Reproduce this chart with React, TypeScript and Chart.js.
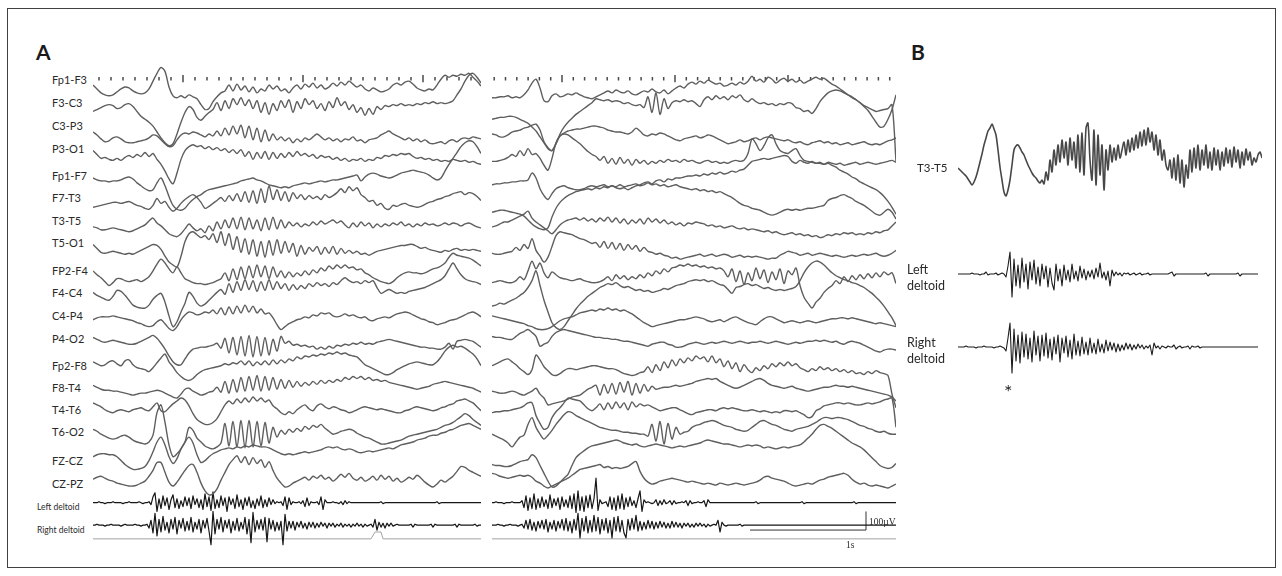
import React, { useEffect, useRef } from "react";
import { Chart, registerables } from "chart.js";
Chart.register(...registerables);

// ---------------- labels ----------------
const channelLabels = ["Fp1-F3","F3-C3","C3-P3","P3-O1","Fp1-F7","F7-T3","T3-T5","T5-O1","FP2-F4","F4-C4","C4-P4","P4-O2","Fp2-F8","F8-T4","T4-T6","T6-O2","FZ-CZ","CZ-PZ"];
const emgLabels = ["Left deltoid","Right deltoid"];

// ---------------- panel A, left page (EEG amplitude, one value every 2 samples) ----------------
const leftFp1F3 = [0,-4,-8,-10,-11,-10,-7,-4,-2,-3,-6,-8,-9,-8,-4,4,12,18,14,-2,-11,-13,-11,-13,-10,-12,-14,-20,-25,-24,-17,-12,-8,-6,0,-6,1,-5,-1,-7,-2,-8,-4,-6,0,-4,-1,-6,-4,-8,-3,0,-4,1,-2,2,-3,0,-4,-2,2,-1,3,0,4,1,-2,0,-4,-6,-3,-5,-7,-6,-4,0,2,0,3,4,1,-3,-5,-6,-4,-5,0,6,10,8,10,9,11,10,12,8,4,-1];
const leftF3C3 = [-4,-2,0,2,3,2,-1,0,3,4,1,-4,-9,-12,-15,-19,-25,-31,-36,-39,-37,-27,-15,-5,1,-2,-10,-13,-9,-5,-2,5,-3,7,-1,9,3,10,2,8,-1,7,-5,5,-7,4,-3,7,0,8,-5,6,-1,9,3,7,-1,4,-3,6,0,10,2,6,-2,3,-5,0,-8,-1,-7,1,-2,2,1,3,2,4,2,3,2,4,3,5,4,6,4,5,4,5,7,13,19,27,33,35,31,25];
const leftC3P3 = [-2,-5,-9,-12,-11,-8,-7,-9,-12,-13,-13,-12,-11,-10,-8,-5,-6,-10,-14,-17,-16,-10,-5,-3,-4,-2,-3,-5,-7,-4,-6,-1,-6,2,-5,4,-4,5,-8,4,-10,2,-12,0,-11,-4,-10,-7,-11,-8,-13,-9,-12,-8,-10,-7,-4,-7,-10,-8,-11,-9,-12,-9,-10,-7,-11,-10,-13,-10,-9,-8,-5,-3,-1,-4,-6,-8,-10,-8,-11,-9,-12,-10,-13,-14,-13,-12,-14,-11,-10,-12,-9,-8,-9,-7,-8,-9];
const leftP3O1 = [2,-2,-6,-5,-7,-8,-6,-8,-5,-3,-5,-2,-4,0,-4,-1,-7,-12,-19,-27,-32,-21,-7,2,6,8,6,7,4,6,3,5,2,4,0,3,-1,3,-4,1,-7,0,-6,1,-7,0,-6,-1,-5,0,-4,1,-3,-1,-4,-2,-6,-3,-5,-4,-7,-5,-8,-6,-9,-7,-8,-6,-9,-7,-8,-5,-6,-3,-4,-2,-3,-1,-2,-1,-4,-6,-5,-7,-6,-8,-7,-9,-8,-9,-7,-8,-9,-8,-10,-9,-11,-12];
const leftFp1F7 = [1,-1,-2,-2,-3,-2,-2,-1,1,2,0,-4,-7,-10,-12,-11,-4,1,-7,-18,-27,-31,-32,-30,-25,-21,-18,-16,-13,-11,-10,-9,-8,-7,-6,-5,-4,-2,-1,0,1,-1,-2,-4,-6,-7,-8,-9,-8,-9,-7,-6,-5,-4,-5,-4,-3,-2,-3,-2,-1,-1,0,1,2,3,4,-2,2,5,6,5,3,2,1,2,4,6,7,8,9,8,7,6,4,1,-1,1,8,15,21,27,33,37,39,38,33,26];
const leftF7T3 = [-7,-6,-5,-4,-3,-2,-2,-3,-2,-1,-3,-5,-6,-8,-9,-5,2,-3,-1,-7,-11,-8,-3,1,4,6,3,-2,-8,-6,-3,0,3,-1,5,0,7,-1,9,-2,10,-3,12,-2,15,1,11,0,9,-1,8,2,6,1,5,2,4,1,6,3,5,8,12,8,14,10,13,6,3,-1,0,-5,-3,-8,-9,-5,-6,-4,-3,-5,-6,-7,-6,-4,-2,-1,1,2,4,5,7,8,9,6,8,7,4,0];
const leftT3T5 = [-4,-5,-7,-7,-6,-5,-6,-7,-8,-9,-8,-6,-4,-2,2,5,0,-3,-7,-11,-13,-14,-11,-6,-1,-5,-8,-6,-10,-3,-8,1,-6,3,-5,5,-6,6,-7,5,-6,3,-8,5,-7,6,-6,3,-5,1,-3,0,-4,-1,-3,1,-2,2,-1,1,3,0,2,-2,-5,0,-4,1,-3,0,-5,-1,-4,-1,-3,0,-2,1,-3,-1,-4,-1,-3,0,-2,-1,-3,-2,0,-2,0,-1,-3,-1,0,-2,-4,-5];
const leftT5O1 = [0,-4,-8,-9,-8,-7,-8,-9,-10,-9,-10,-8,-6,-4,-2,0,-1,-5,-12,-18,-21,-23,-12,3,11,13,10,7,9,5,11,2,13,-1,11,-5,8,-8,6,-10,5,-12,3,-13,4,-11,5,-9,3,-8,1,-12,-1,-10,-3,-7,-2,-10,-3,-9,-2,-10,-4,-9,-6,-9,-7,-10,-9,-11,-9,-7,-6,-5,-4,-3,-2,-1,-1,0,0,-2,-4,-3,-5,-6,-7,-8,-6,-7,-5,-4,-6,-5,-6,-5,-6,-7];
const leftFp2F4 = [1,-3,-6,-10,-14,-11,-7,-7,-9,-10,-9,-8,-10,-8,-5,1,8,13,9,3,-1,5,-1,-7,-9,-11,-12,-12,-13,-12,-11,-9,-7,-1,-9,3,-8,5,-7,6,-6,7,-5,6,-7,5,-5,1,-6,0,-5,-1,-4,1,-3,2,-1,4,1,6,3,7,4,7,4,5,2,3,-1,-3,-6,-8,-10,-11,-12,-10,-6,-3,-1,0,-1,-1,-2,-1,1,3,4,6,9,15,19,17,16,15,14,12,9,6];
const leftF4C4 = [1,-2,-4,-6,-7,-3,3,2,-2,-7,-12,-14,-15,-15,-12,-6,-2,0,-9,-23,-34,-29,-19,-10,1,-3,-10,-13,-11,-7,-3,1,4,-1,10,1,12,3,14,4,13,2,12,3,14,4,12,5,10,3,9,4,8,5,10,7,11,8,10,7,11,9,13,16,13,11,12,10,13,11,13,6,0,2,4,2,0,1,0,2,3,4,5,6,8,10,12,14,18,25,31,25,19,15,13,12,11,9];
const leftC4P4 = [-4,-2,-1,-1,-1,0,-1,-2,-3,-4,-5,-7,-8,-10,-11,-10,-6,-4,-8,-13,-15,-11,-4,1,4,3,1,2,4,3,6,2,8,1,9,2,10,3,11,4,10,3,7,2,3,-2,-9,-14,-11,-8,-6,-4,-3,-1,-2,1,0,3,2,3,0,-1,0,2,0,1,-1,-2,-1,-4,-5,-3,-2,-1,-2,0,2,3,4,3,1,-1,-3,-4,-6,-7,-9,-8,-7,-5,-4,-3,-1,1,3,4,2,-1];
const leftP4O2 = [1,-1,-3,-4,-3,-2,-3,-4,-5,-6,-6,-5,-3,-1,1,3,0,-5,-11,-18,-24,-27,-27,-21,-15,-11,-10,-9,-9,-8,-7,-5,-10,0,-15,1,-17,2,-18,3,-19,2,-18,1,-17,-1,-13,2,-5,-3,-7,-6,-8,-7,-9,-8,-11,-9,-11,-8,-10,-7,-8,-6,-7,-5,-6,-4,-6,-5,-6,-4,-3,-2,-1,-2,-3,-4,-5,-6,-7,-8,-9,-9,-10,-10,-11,-11,-9,-5,-11,-3,-2,-1,-2,-3,-6,-9];
const leftFp2F8 = [3,1,-1,0,3,4,1,-1,4,5,0,-3,-4,-5,-7,-3,2,7,11,3,-2,-8,-12,-15,-16,-14,-10,-7,-5,-4,-3,-2,-1,1,0,2,1,4,0,4,-1,3,0,4,0,5,1,5,2,6,4,8,6,9,8,10,9,11,10,12,11,13,11,12,10,9,8,4,0,-2,-4,-6,-8,-10,-10,-8,-5,-3,-1,1,2,3,2,1,0,0,3,8,14,18,20,18,19,17,14,11,6,-1];
const leftF8T4 = [1,-1,-3,-4,-4,-5,-5,-6,-7,-8,-9,-8,-7,-7,-6,-5,-4,-5,-7,-9,-11,-12,-8,-3,-2,-5,-7,-9,-8,-6,-5,-1,-6,5,-7,7,-6,9,-5,10,-4,11,-5,10,-4,9,-3,7,-2,6,-1,5,0,4,1,5,2,6,3,6,4,7,5,9,7,10,8,10,7,9,6,7,5,6,4,3,2,1,0,-1,-2,-3,-2,-1,0,2,3,4,5,4,3,2,1,0,-1,-2,-4,-6];
const leftT4T6 = [5,3,1,-2,-4,-5,-3,-2,-3,-4,-2,-1,0,-2,-3,1,5,-3,-4,0,4,7,10,8,2,-6,-12,-15,-17,-17,-15,-11,-4,3,7,4,9,5,10,6,11,7,10,6,8,2,-1,-5,-7,-4,-6,-2,1,3,-1,-3,2,4,1,-1,1,0,-2,-3,-5,-4,-2,0,1,0,-1,-2,-1,-2,-3,-4,-5,-5,-3,-2,0,1,0,-1,-2,-3,-2,0,1,3,4,7,8,9,7,5,1,-3];
const leftT6O2 = [0,-2,-5,-7,-9,-10,-9,-7,-6,-8,-11,-13,-14,-15,-13,-6,17,25,7,-16,-28,-25,-20,-13,2,-1,-9,-13,-17,-19,-20,-18,-14,6,-17,8,-18,9,-19,9,-18,8,-17,7,-14,2,-8,-1,-5,0,-3,1,-2,3,0,4,2,5,1,-2,-5,-4,-2,-1,0,-1,-4,-6,-8,-9,-11,-13,-15,-15,-14,-13,-12,-11,-9,-7,-6,-5,-4,-3,-2,-1,0,2,4,5,7,10,13,16,14,10,7,4];
const leftFzCz = [1,3,4,4,3,3,1,-3,-7,-10,-12,-12,-11,-9,-3,6,16,21,13,1,-6,-1,9,16,21,15,3,-5,-3,1,4,6,8,9,10,9,11,10,12,11,13,12,11,11,10,8,6,4,3,4,3,4,5,6,5,6,7,8,10,11,10,11,9,8,9,8,6,5,6,7,6,7,8,9,10,9,11,13,14,15,16,18,19,20,22,23,23,25,26,28,29,31,33,34,35,33,31,29];
const leftCzPz = [1,3,4,2,0,-1,-3,-4,-5,-6,-6,-5,-3,-1,4,10,18,18,8,-2,-6,-2,4,10,15,16,8,-3,-11,-15,-14,-9,0,8,16,21,25,18,24,16,23,17,21,13,19,10,2,-3,-7,-6,-3,-1,1,3,0,4,2,5,1,3,-1,2,6,3,7,2,0,3,-1,1,4,0,5,1,4,-1,2,-2,0,3,1,5,2,-2,-5,-7,-4,0,-2,1,4,9,14,13,10,8,6,4];

// EMG (one value per sample)
const leftLeftDeltoid = [
  0,0,0,1,0,0,-1,0,0,0,1,0,0,0,0,-1,0,0,1,0,0,0,0,1,0,-1,0,0,
  1,-2,6,10,-9,4,-6,7,-3,5,-7,3,8,-5,4,-6,2,-4,6,-3,5,-6,7,-2,4,-5,3,-7,9,-4,
  6,-8,11,-6,3,-5,7,-3,5,-9,6,-2,4,-6,8,-4,3,-7,5,-3,6,-5,2,-6,4,-3,7,-5,3,-4,
  5,-2,3,-1,1,0,1,-3,6,-7,5,-2,1,0,0,1,-1,2,-4,5,-3,1,0,0,1,-2,6,-7,3,0,
  0,0,1,0,0,-1,1,-2,2,-1,1,0,0,
  0,0,0,0,0,0,0,0,0,0,0,0,0,
  1,-1,0,0,0,0,0,0,0,0,0,0,0,0,0,0,0,0,0,0,0,0,0,0,0,0,0,0,
  1,-1,0,0,0,0,0,0,0,0,0,0,0,0,0,0,0,0,0,0,0,0,0
];
const leftRightDeltoid = [
  0,0,1,0,0,0,-1,0,0,1,0,0,0,0,-1,0,1,0,0,0,0,1,0,0,-1,0,0,1,
  -3,5,-8,12,-11,6,-7,9,-5,3,-8,6,-4,8,-9,5,-3,7,-6,4,-5,8,-7,3,-4,6,-8,5,-3,7,
  -6,-20,14,-9,6,-4,8,-7,5,-3,6,-8,4,-5,7,-6,3,-4,8,-9,6,-18,13,-7,5,-4,6,-5,8,-17,
  7,-4,5,-6,3,-5,4,-20,11,-6,4,
  -3,4,-5,3,-2,4,-3,2,-4,3,-2,3,-3,2,-2,3,-1,2,-3,2,-1,2,-2,1,-1,2,-2,1,-1,1,-2,1,-1,2,-1,1,-2,1,-1,0,1,
  -2,6,-5,3,-2,2,-3,2,-1,2,-1,0,1,0,0,
  0,0,0,0,1,-2,1,0,0,0,0,0,0,0,1,-2,1,0,0,0,0,0,0,0,0,0,1,-2,1,0,0,0,0,0,0,0,1,-1,0,0
];
const leftMarkerTimes = [0,139,141,144,145,194];
const leftMarkerValues = [0,0,7,7,0,0];

// ---------------- panel A, right page ----------------
const rightFp1F3 = [-13,-13,-12,-12,-11,-13,-12,-13,-10,-5,2,6,-3,-16,-17,-11,-9,-12,-11,-9,-10,-8,-10,-12,-13,-14,-12,-10,-8,-6,-8,-5,-7,-8,-6,-9,-10,-8,-6,-7,-4,-7,-8,-5,-9,-6,-3,-1,-3,1,3,1,4,2,5,3,1,2,-1,0,2,0,3,1,4,9,4,6,3,8,6,2,5,7,4,6,3,5,2,4,6,8,6,7,4,1,-1,-4,-7,-10,-13,-15,-18,-22,-26,-32,-38,-43,-42,-35,-25,-10];
const rightF3C3 = [-12,-11,-10,-10,-9,-9,-10,-12,-14,-16,-20,-24,-30,-36,-42,-44,-37,-27,-20,-15,-11,-7,-4,-1,2,5,9,8,7,8,6,7,6,4,5,3,2,3,0,11,-5,15,-7,9,-1,5,7,6,8,6,7,4,1,8,11,8,12,9,11,8,12,10,13,8,6,9,6,4,5,3,4,2,4,3,5,4,0,-1,-4,-3,-6,-1,6,11,15,17,18,17,15,13,11,8,5,2,0,-2,-4,-3,-2,-1,3,-55];
const rightC3P3 = [-4,-5,-7,-7,-5,-2,-1,0,2,3,5,6,0,-12,-18,-21,-14,-6,-3,-1,0,1,1,2,3,4,4,3,2,0,-1,-2,-2,-3,-4,-2,2,-1,-5,-6,-4,-5,-3,-4,-6,-8,-10,-11,-9,-8,-7,-6,-8,-7,-5,-6,-8,-10,-12,-14,-13,-12,-10,-12,-11,-9,-8,-10,-8,-7,-8,-9,-10,-11,-10,-12,-13,-12,-14,-15,-13,-12,-11,-13,-12,-14,-13,-15,-14,-13,-15,-14,-13,-12,-14,-15,-14,-15,-13,-11,-10,-8];
const rightP3O1 = [-9,-9,-8,-7,-5,-2,-4,2,-3,4,-2,-1,-6,-13,-18,-6,10,17,19,18,15,12,9,5,1,-2,-4,-8,-4,-11,-6,-12,-5,-11,-7,-13,-7,-11,-8,-12,-9,-11,-8,-10,-7,-9,-8,-10,-7,-9,-8,-10,-11,-9,-8,-10,-9,-11,-10,-11,-9,-8,-9,-8,-1,14,9,2,7,15,18,9,2,0,-1,2,4,-3,-8,-9,-10,-11,-11,-12,-11,-13,-15,-18,-20,-22,-25,-27,-30,-32,-34,-36,-38,-41,-45,-50,-56,-63];
const rightFp1F7 = [-6,-5,-5,-4,-4,-3,-3,-2,-2,-1,6,1,-10,-17,-21,-15,-10,-8,-7,-9,-10,-11,-11,-10,-8,-7,-8,-7,-6,-8,-7,-9,-10,-9,-11,-9,-7,-6,-4,-3,-5,-2,-1,-3,0,-1,1,1,2,3,3,4,3,5,4,6,5,7,5,6,8,7,9,10,14,18,19,20,21,20,21,22,23,24,23,18,16,19,17,16,18,16,17,15,17,16,15,16,14,15,16,17,15,16,17,16,15,16,17,18,19,17];
const rightF7T3 = [-12,-11,-10,-10,-11,-12,-13,-14,-16,-20,-24,-27,-29,-30,-28,-17,-8,-2,2,5,7,9,10,11,12,11,13,12,14,13,15,14,16,14,15,16,17,15,16,18,16,17,15,16,14,15,16,14,13,12,11,12,10,11,9,10,8,9,7,5,3,0,-3,-5,-6,-8,-9,-10,-12,-14,-15,-14,-12,-10,-9,-10,-9,-10,-9,-8,-8,-7,-6,-5,0,2,3,5,6,4,2,-1,-3,-5,-8,-11,-14,-15,-12,-9,-12,-19];
const rightT3T5 = [-4,-3,-1,1,1,3,5,7,9,12,5,1,-2,-5,-8,-11,-7,-2,1,3,4,5,3,5,2,4,1,5,2,6,1,5,0,4,-1,3,0,4,-1,5,1,4,0,3,-1,1,-2,0,-3,0,-1,1,0,-1,-3,-2,-4,-3,-5,-4,-3,-5,-6,-5,-7,-6,-7,-8,-9,-8,-10,-9,-11,-12,-11,-10,-12,-11,-13,-12,-14,-13,-15,-14,-12,-13,-11,-12,-10,-11,-10,-12,-11,-12,-10,-11,-9,-10,-8,-7,-3,1];
const rightT5O1 = [-9,-10,-10,-9,-8,-7,-3,-6,0,-4,6,-6,-12,-18,-13,-2,9,13,12,11,10,8,6,5,3,1,2,-3,3,-4,2,-5,1,-6,0,-5,-1,-7,-3,-7,-8,-10,-9,-11,-12,-14,-13,-15,-14,-13,-12,-11,-10,-12,-11,-10,-12,-11,-10,-11,-13,-12,-11,-13,-12,-13,-12,-13,-14,-15,-14,-14,-11,-9,-7,-8,-9,-11,-10,-9,-11,-10,-9,-10,-11,-12,-11,-12,-13,-12,-11,-12,-11,-10,-11,-10,-9,-11,-12,-11,-9,-6];
const rightFp2F4 = [-11,-10,-9,-10,-11,-11,-9,-5,-8,1,11,3,9,-1,-6,0,-3,-6,-7,-8,-9,-8,-7,-9,-10,-11,-11,-10,-8,-5,-9,-3,-7,-4,-8,-5,-7,-3,-6,-1,-4,1,-2,3,0,4,5,7,6,8,6,7,5,6,4,5,3,4,1,-5,3,-10,1,-13,-1,-9,4,-7,2,-11,0,-8,3,-12,1,-3,4,-14,-26,-32,-37,-31,-27,-21,-17,-14,-9,-12,-5,-10,-4,-8,-3,-7,-2,-6,-1,-5,0,-3,-1,-12];
const rightF4C4 = [-13,-12,-10,-11,-9,-7,-5,-2,1,6,13,23,8,-7,-19,-30,-35,-37,-34,-28,-22,-16,-11,-7,-3,0,3,6,8,10,9,11,8,6,7,5,3,4,2,3,1,2,3,5,4,6,8,9,10,12,13,14,13,14,12,13,11,9,8,4,0,6,7,9,10,8,9,7,5,6,4,3,4,3,4,5,7,13,21,27,31,33,32,29,25,21,18,16,14,13,11,10,8,6,3,0,-4,-8,-13,-19,-25,-33];
const rightC4P4 = [0,-1,-2,-3,-4,-5,-6,-7,-8,-10,-11,-13,-14,-14,-13,-11,-8,-5,-3,-2,-1,1,3,4,5,6,5,7,6,8,6,7,5,6,4,2,-1,-4,-7,-9,-11,-10,-9,-8,-7,-6,-5,-4,-4,-3,-2,-1,-2,-3,-5,-6,-5,-4,-6,-4,-2,-1,-3,-5,-7,-8,-9,-6,-3,-1,-1,-3,-5,-7,-6,-5,-6,-7,-6,-5,-6,-7,-6,-5,-4,-3,-3,-2,-2,-3,-2,-3,-4,-5,-6,-7,-8,-7,-8,-9,-10,-11];
const rightP4O2 = [2,1,1,0,-1,-1,2,5,7,9,6,2,-8,-6,-4,2,6,8,9,8,7,6,5,4,3,2,1,1,0,0,-1,-1,-2,-3,-3,-4,-5,-6,-7,-8,-6,-5,-4,-4,-6,-7,-9,-9,-8,-6,-5,-4,-5,-6,-5,-4,-5,-4,-3,-4,-5,-4,-3,-4,-5,-4,-4,-3,-4,-5,-4,-3,-4,-5,-6,-5,-4,-5,-4,-3,-3,-2,-3,-2,-3,-4,-3,-5,-6,-4,-3,-4,-5,-7,-9,-11,-13,-14,-12,-11,-11,-12];
const rightFp2F8 = [-1,1,3,5,6,3,0,-4,-7,-10,-5,10,5,-2,-6,-10,-11,-9,-6,-4,-4,-5,-4,-3,-2,-1,-1,-2,-3,-4,-4,-5,-7,-9,-10,-11,-10,-8,-7,-2,-8,0,-6,3,-3,5,-1,6,2,7,4,9,6,8,3,9,2,6,-2,4,-4,2,-7,0,-5,-8,-3,-6,-1,-4,1,-2,2,-1,3,-1,1,-3,-5,-7,-4,-6,-2,-5,-3,-6,-4,-7,-5,-8,-6,-9,-8,-10,-7,-9,-6,-8,-9,-11,-30,-44];
const rightF8T4 = [-5,-6,-7,-7,-6,-5,-6,-8,-9,-7,-5,-2,-8,-12,-19,-18,-17,-16,-15,-13,-11,-10,-9,-6,-3,-1,1,-9,2,-7,3,-8,4,-6,5,-9,3,-7,2,-5,0,-3,-2,-1,-1,0,1,0,1,2,3,5,6,7,8,7,8,5,3,1,-1,-2,-1,1,3,5,7,8,6,3,1,0,-1,-2,-1,0,-2,-3,-4,-5,-4,-3,-2,-1,-1,0,1,0,0,-1,0,-1,-2,-3,-4,-5,-6,-7,-8,-9,-11,-15];
const rightT4T6 = [-5,-4,-4,-3,-3,-2,-1,0,2,5,5,-8,-16,-22,-20,-10,-4,0,5,10,9,8,7,3,-1,-3,0,4,-2,5,-1,6,0,5,-2,6,1,4,2,3,1,-1,-3,-2,-1,0,0,-2,-4,-6,-7,-5,-4,-3,-2,-2,-3,-1,0,-1,0,-1,-2,-3,-3,-2,-3,-4,-3,-4,-5,-4,-5,-3,-3,-4,-3,-5,-7,-10,-9,-3,-1,2,3,4,5,5,4,5,4,3,3,4,5,4,5,6,8,9,10,-20];
const rightT6O2 = [-5,-7,-9,-11,-14,-18,-13,-8,-6,5,12,2,-5,-10,-6,-1,5,10,15,18,17,14,12,10,8,6,4,2,1,0,-1,-1,-2,-3,-3,-4,-4,-5,-5,-7,5,-12,8,-15,6,-10,2,-5,-3,-2,2,4,5,7,8,9,8,6,4,3,2,0,-1,-2,-1,2,5,8,9,7,5,4,2,0,-1,-2,0,1,2,3,5,7,10,12,12,11,12,12,11,10,8,6,4,3,1,0,-2,-3,-2,-4,-5,-5];
const rightFzCz = [-7,-8,-8,-9,-9,-8,-6,-4,-3,-2,3,0,-8,-16,-24,-30,-29,-25,-21,-17,-8,0,4,7,10,12,13,14,15,16,17,18,17,15,14,13,14,12,11,12,13,14,13,12,11,10,11,12,11,12,13,14,15,17,18,17,16,15,14,14,13,12,11,12,13,12,13,12,10,11,10,9,10,11,10,11,12,13,16,20,24,29,33,34,32,30,27,24,21,18,15,13,11,8,4,0,-4,-8,-10,-11,-10,-6];
const rightCzPz = [7,6,4,3,2,3,4,5,4,5,3,-1,-3,-6,-8,-6,-4,-2,0,2,5,8,11,12,13,14,15,16,13,14,12,13,12,13,14,17,19,9,2,-2,-4,-3,-1,0,1,2,1,0,-1,-2,-1,-2,-3,-4,-3,-4,-5,-3,-4,-5,-4,-3,-4,-5,-4,-3,-2,0,3,4,2,1,0,-1,-3,-5,-6,-5,-4,-3,-4,-2,0,1,3,4,5,6,7,5,1,-2,-4,-3,-5,-6,-5,-6,-7,-8,-6,-4];

const rightLeftDeltoid = [
  0,0,1,0,0,0,-1,0,0,0,1,0,0,0,0,
  2,-5,7,-8,5,-6,9,-7,4,-5,6,-4,3,-6,8,-5,4,-3,5,-7,6,-4,3,-5,7,-6,9,-10,12,-8,
  6,-9,7,-5,8,-6,4,25,-8,3,-1,0,1,-4,6,-7,5,-8,7,-6,9,-7,5,-4,6,-3,2,-5,4,12,-9,3,
  0,1,0,-1,0,3,-3,2,-2,3,-1,0,2,-2,2,-1,0,0,1,0,2,-3,2,-1,0,0,1,0,0,2,-4,3,0,
  0,0,0,0,0,0,0,0,0,0,0,0,0,0,0,0,0,0,0,0,0,0,1,-1,
  0,0,0,0,0,0,0,0,0,0,0,0,0,0,0,0,0,0,0,0,0,1,-1,
  0,0,0,0,0,0,0,0,0,0,0,0,0,0,0,0,0,0,0,0,0,0,0,0,1,-1,
  0,0,0,0,0,0,0,0,0,0,0,0,0,0,0,0,0,0,0,0
];
const rightRightDeltoid = [
  0,0,0,1,0,0,-1,0,0,1,0,0,0,-1,0,1,
  -3,5,-4,6,-5,3,-6,4,-3,5,-4,6,-7,3,-4,5,-6,4,-3,6,-5,7,-6,4,-8,6,-5,12,-13,7,
  -6,9,-8,5,-7,10,-6,8,-9,6,-5,7,-8,5,-13,8,-6,9,-7,5,-8,-13,6,-5,7,-4,10,-6,4,-5,
  3,-4,5,-3,4,-4,3,-3,4,-2,3,-3,2,-3,4,-2,3,-2,2,-3,2,-1,2,-2,1,-2,2,-1,2,-1,
  1,-2,1,-1,0,1,0,5,-7,
  3,0,-1,0,0,0,0,0,0,1,-1,
  0,0,0,0,0,0,0,0,0,0,0,0,0,0,0,0,0,0,0,0,0,0,0,0,0,0,0,0,0,0,0,0,0,0,0,0,0,0,0,
  0,0,0,0,0,0,0,0,0,0,0,0,0,0,0,0,0,0,0,0,0,0,0,0,0,0,0,0,0,0,0,0,0,0,0,0,0,0
];
const rightMarkerTimes = [0,202];
const rightMarkerValues = [0,0];

// ---------------- panel B ----------------
const bT3T5 = [2,0,-2,-4,-6,-9,-12,-15,-12,-7,0,8,16,25,32,39,42,46,41,35,20,3,-10,-22,-26,-20,-10,5,20,24,25,22,18,15,10,5,1,-3,-6,-8,-11,-13,-10,-14,-2,-10,10,-2,20,5,25,8,30,12,28,5,32,10,28,2,35,-2,37,-5,42,47,10,-10,40,-15,35,-5,25,-20,20,0,25,8,22,10,25,12,20,28,15,30,18,32,20,35,22,38,24,40,25,42,28,38,20,35,15,30,10,20,5,0,10,-8,12,-10,15,-13,10,-17,5,-8,20,-2,22,2,25,0,20,5,25,2,18,0,22,5,20,0,18,4,22,7,20,3,23,8,20,2,18,5,21,10,18,5,12,8,15,18,12];
const bLeftDeltoid = [
  0,0,0,0,0,0,0,1,0,0,0,-1,0,0,2,-1,0,0,0,1,-1,0,1,0,
  -3,8,22,-23,15,-12,9,-14,16,-8,10,-15,12,-6,14,-10,7,-12,10,-5,8,-13,6,-9,-16,10,-7,5,-12,9,
  -6,4,-8,10,-5,3,-7,8,-4,5,-6,3,-3,4,-5,6,-3,11,-4,2,-6,3,-12,4,
  -2,2,-1,1,-2,1,0,1,-1,0,1,-1,0,1,-1,0,0,1,-1,0,0,0,0,0,0,0,0,0,1,2,
  -2,0,0,0,0,0,0,0,0,0,0,0,0,0,0,0,1,-2,0,0,0,0,0,0,0,0,0,0,0,0,0,0,1,-2,0,0,0,0,0,0,0,0,0
];
const bRightDeltoid = [
  0,0,0,0,1,0,0,0,0,-1,0,0,0,1,0,0,0,0,-1,0,0,1,0,-1,
  -4,9,24,-26,18,-14,12,-16,15,-10,13,-12,9,-15,16,-8,11,-14,12,-9,14,-11,8,-13,10,-7,12,-15,9,-6,
  11,-10,7,-12,13,-8,6,-9,10,-7,5,-8,9,-6,4,-7,8,-5,3,-6,7,-4,5,-3,4,-5,3,-4,2,-3,
  4,-2,3,-3,2,-2,3,-1,2,-2,1,-1,2,
  -8,4,-1,1,-2,1,0,-1,1,0,0,2,-2,0,1,-1,0,0,1,-2,1,0,0,1,-1,0,0,0,0,0,
  0,0,0,0,0,0,0,0,0,0,0,0,0,0,0,0,0,0,0,0,0,0,0,0
];

// ---------------- layout (page pixels) ----------------
const ROW_Y = [80,103,126,149,176,198,221,243,271,293,316,339,366,388,410,432,461,484];
const EMG_Y = [507,530];
const MARKER_Y = 544;
const TICK_Y = 73.5;
const EEG_COLOR = "#5e5e5e";
const EMG_COLOR = "#161616";

type PanelSpec = {
  left: number; top: number; width: number; height: number;
  padLeft: number; padRight: number; xMax: number; yMin: number; yMax: number;
};
const LEFT_PANEL: PanelSpec = { left: 20, top: 60, width: 468, height: 500, padLeft: 73, padRight: 7, xMax: 194, yMin: 60, yMax: 560 };
const RIGHT_PANEL: PanelSpec = { left: 486, top: 60, width: 420, height: 500, padLeft: 6, padRight: 10, xMax: 202, yMin: 60, yMax: 560 };
const B_PANEL: PanelSpec = { left: 940, top: 100, width: 340, height: 300, padLeft: 18, padRight: 18, xMax: 152, yMin: 100, yMax: 400 };

const LEFT_TICKS = { first: 3, step: 6, count: 32, longPhase: 7 };
const RIGHT_TICKS = { first: 1.1, step: 5.65, count: 36, longPhase: 6 };
// scale bar (right page): 1 s and 100 µV
const SCALE_BAR = { end: 187, secondSamples: 58, baseY: 535, microvoltPx: 19 };

function trace(values: number[], base: number, step: number, color: string, width: number, tension: number) {
  return {
    type: "line" as const,
    data: values.map((v, i) => ({ x: i * step, y: base - v })),
    borderColor: color,
    borderWidth: width,
    pointRadius: 0,
    tension,
    fill: false,
    borderJoinStyle: "round" as const,
  };
}

function marker(times: number[], vals: number[]) {
  return {
    type: "line" as const,
    data: times.map((t, i) => ({ x: t, y: MARKER_Y - vals[i] })),
    borderColor: "#a3a3a3",
    borderWidth: 1,
    pointRadius: 0,
    tension: 0,
    fill: false,
  };
}

function tickMarks(spec: { first: number; step: number; count: number; longPhase: number }) {
  const pts: { x: number; y: number }[] = [];
  const radii: number[] = [];
  for (let k = 0; k < spec.count; k++) {
    pts.push({ x: spec.first + k * spec.step, y: TICK_Y });
    radii.push(k % 10 === spec.longPhase ? 3.6 : 1.8);
  }
  return {
    type: "scatter" as const,
    data: pts,
    showLine: false,
    pointStyle: "line" as const,
    pointRotation: 90,
    pointRadius: radii,
    pointBorderColor: "#4a4a4a",
    borderColor: "#4a4a4a",
    pointBorderWidth: 1.5,
    borderWidth: 1.5,
  };
}

function makeChart(canvas: HTMLCanvasElement, spec: PanelSpec, datasets: any[]) {
  return new Chart(canvas, {
    type: "line",
    data: { datasets },
    options: {
      animation: false,
      responsive: false,
      devicePixelRatio: 1,
      events: [],
      layout: { padding: { left: spec.padLeft, right: spec.padRight, top: 0, bottom: 0 } },
      scales: {
        x: { type: "linear", min: 0, max: spec.xMax, display: false },
        y: { type: "linear", min: spec.yMin, max: spec.yMax, reverse: true, display: false },
      },
      plugins: { legend: { display: false }, tooltip: { enabled: false } },
      elements: { point: { radius: 0 } },
    } as any,
  });
}

const leftEEG = [leftFp1F3,leftF3C3,leftC3P3,leftP3O1,leftFp1F7,leftF7T3,leftT3T5,leftT5O1,leftFp2F4,leftF4C4,leftC4P4,leftP4O2,leftFp2F8,leftF8T4,leftT4T6,leftT6O2,leftFzCz,leftCzPz];
const rightEEG = [rightFp1F3,rightF3C3,rightC3P3,rightP3O1,rightFp1F7,rightF7T3,rightT3T5,rightT5O1,rightFp2F4,rightF4C4,rightC4P4,rightP4O2,rightFp2F8,rightF8T4,rightT4T6,rightT6O2,rightFzCz,rightCzPz];

const textBase: React.CSSProperties = { position: "absolute", fontFamily: "Lato, 'Open Sans', sans-serif", color: "#2a2a2a", whiteSpace: "nowrap" };

export default function App() {
  const leftRef = useRef<HTMLCanvasElement>(null);
  const rightRef = useRef<HTMLCanvasElement>(null);
  const bRef = useRef<HTMLCanvasElement>(null);

  useEffect(() => {
    const charts: Chart[] = [];
    if (leftRef.current) {
      const ds: any[] = [];
      leftEEG.forEach((vals, c) => ds.push(trace(vals, ROW_Y[c], 2, EEG_COLOR, 1.4, 0.3)));
      ds.push(trace(leftLeftDeltoid, EMG_Y[0], 1, EMG_COLOR, 1.2, 0));
      ds.push(trace(leftRightDeltoid, EMG_Y[1], 1, EMG_COLOR, 1.2, 0));
      ds.push(marker(leftMarkerTimes, leftMarkerValues));
      ds.push(tickMarks(LEFT_TICKS));
      charts.push(makeChart(leftRef.current, LEFT_PANEL, ds));
    }
    if (rightRef.current) {
      const ds: any[] = [];
      rightEEG.forEach((vals, c) => ds.push(trace(vals, ROW_Y[c], 2, EEG_COLOR, 1.4, 0.3)));
      ds.push(trace(rightLeftDeltoid, EMG_Y[0], 1, EMG_COLOR, 1.2, 0));
      ds.push(trace(rightRightDeltoid, EMG_Y[1], 1, EMG_COLOR, 1.2, 0));
      ds.push(marker(rightMarkerTimes, rightMarkerValues));
      ds.push(tickMarks(RIGHT_TICKS));
      ds.push({
        type: "line",
        data: [
          { x: SCALE_BAR.end - SCALE_BAR.secondSamples, y: SCALE_BAR.baseY },
          { x: SCALE_BAR.end, y: SCALE_BAR.baseY },
          { x: SCALE_BAR.end, y: SCALE_BAR.baseY - SCALE_BAR.microvoltPx },
        ],
        borderColor: "#333",
        borderWidth: 1,
        pointRadius: 0,
        tension: 0,
        fill: false,
      });
      charts.push(makeChart(rightRef.current, RIGHT_PANEL, ds));
    }
    if (bRef.current) {
      const ds: any[] = [];
      ds.push(trace(bT3T5, 170, 1, "#474747", 1.6, 0.3));
      ds.push(trace(bLeftDeltoid, 274, 1, "#1c1c1c", 1.1, 0));
      ds.push(trace(bRightDeltoid, 347, 1, "#1c1c1c", 1.1, 0));
      charts.push(makeChart(bRef.current, B_PANEL, ds));
    }
    return () => charts.forEach((c) => c.destroy());
  }, []);

  const canvasStyle = (s: PanelSpec): React.CSSProperties => ({ position: "absolute", left: s.left, top: s.top, width: s.width, height: s.height });

  return (
    <div style={{ position: "fixed", left: 0, top: 0, width: 1282, height: 576, background: "#fff", overflow: "hidden" }}>
      <div style={{ position: "absolute", left: 7, top: 8, width: 1267, height: 558, border: "1px solid #404040" }} />
      <div style={{ ...textBase, left: 36, top: 41, fontSize: 21, fontWeight: 700, lineHeight: "21px", color: "#1a1a1a" }}>A</div>
      <div style={{ ...textBase, left: 911, top: 41, fontSize: 21, fontWeight: 700, lineHeight: "21px", color: "#1a1a1a" }}>B</div>
      {channelLabels.map((lab, i) => (
        <div key={lab} style={{ ...textBase, left: 52, top: ROW_Y[i] - 6, fontSize: 11, lineHeight: "12px" }}>{lab}</div>
      ))}
      {emgLabels.map((lab, i) => (
        <div key={lab} style={{ ...textBase, left: 37, top: EMG_Y[i] - 5, fontSize: 8.5, lineHeight: "10px" }}>{lab}</div>
      ))}
      <canvas ref={leftRef} width={LEFT_PANEL.width} height={LEFT_PANEL.height} style={canvasStyle(LEFT_PANEL)} />
      <canvas ref={rightRef} width={RIGHT_PANEL.width} height={RIGHT_PANEL.height} style={canvasStyle(RIGHT_PANEL)} />
      <canvas ref={bRef} width={B_PANEL.width} height={B_PANEL.height} style={canvasStyle(B_PANEL)} />
      <div style={{ ...textBase, fontFamily: "'Liberation Serif', serif", left: 869, top: 517, fontSize: 9.5, lineHeight: "10px" }}>100µV</div>
      <div style={{ ...textBase, fontFamily: "'Liberation Serif', serif", left: 846, top: 540, fontSize: 9.5, lineHeight: "10px" }}>1s</div>
      <div style={{ ...textBase, left: 917, top: 162, fontSize: 11.5, lineHeight: "12px" }}>T3-T5</div>
      <div style={{ ...textBase, left: 907, top: 262, fontSize: 12.5, lineHeight: "16px" }}>Left<br />deltoid</div>
      <div style={{ ...textBase, left: 907, top: 335, fontSize: 12.5, lineHeight: "16px" }}>Right<br />deltoid</div>
      <div style={{ ...textBase, left: 1004, top: 381, fontSize: 20, lineHeight: "20px" }}>*</div>
    </div>
  );
}
